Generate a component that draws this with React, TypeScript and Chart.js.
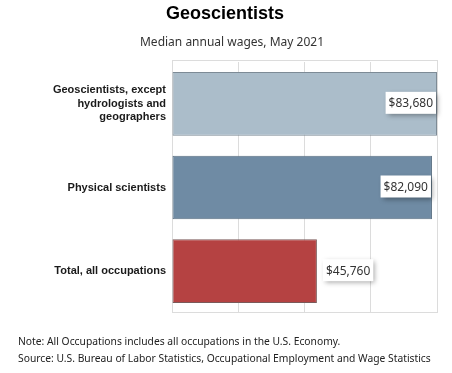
import React, { useEffect, useRef } from "react";
import { Chart, registerables } from "chart.js";
Chart.register(...registerables);

const categories = [
  ["Geoscientists, except", "hydrologists and", "geographers"],
  ["Physical scientists"],
  ["Total, all occupations"],
];
const wages = [83680, 82090, 45760];
const barColors = ["#abbdca", "#6f8ba4", "#b54242"];
const barBorders = ["#7d8b96", "#5a6f82", "#7a5a5a"];
const axisMax = 83680;
const titleText = "Geoscientists";
const subtitleText = "Median annual wages, May 2021";
const notes = [
  "Note: All Occupations includes all occupations in the U.S. Economy.",
  "Source: U.S. Bureau of Labor Statistics, Occupational Employment and Wage Statistics",
];

const fmt = (v: number) => "$" + v.toLocaleString("en-US");

const overlay = {
  id: "overlay",
  beforeDatasetsDraw(chart: any) {
    const { ctx, chartArea: a } = chart;
    ctx.save();
    ctx.strokeStyle = "#dcdcdc";
    ctx.lineWidth = 1;
    ctx.strokeRect(Math.round(a.left) + 0.5, Math.round(a.top) - 1.5, Math.round(a.right - a.left), Math.round(a.bottom - a.top) + 1);
    ctx.restore();
  },
  afterDatasetsDraw(chart: any) {
    const { ctx, chartArea: a } = chart;
    const meta = chart.getDatasetMeta(0);
    ctx.save();
    ctx.font = "12px 'Noto Sans'";
    meta.data.forEach((bar: any, i: number) => {
      const text = fmt(wages[i]);
      const tw = ctx.measureText(text).width;
      const bw = tw + 6;
      const bh = 22;
      let x0: number;
      if (bar.x + 6 + bw > a.right) {
        x0 = bar.x - bw - 1;
      } else {
        x0 = bar.x + 6;
      }
      const y0 = bar.y - 1 - bh / 2;
      ctx.save();
      ctx.shadowColor = "rgba(0,0,0,0.35)";
      ctx.shadowBlur = 5;
      ctx.shadowOffsetX = 2;
      ctx.shadowOffsetY = 2;
      ctx.fillStyle = "#ffffff";
      ctx.fillRect(x0, y0, bw, bh);
      ctx.restore();
      ctx.fillStyle = "#333333";
      ctx.textAlign = "left";
      ctx.textBaseline = "middle";
      ctx.fillText(text, x0 + 3, bar.y);
    });
    ctx.restore();
  },
  afterDraw(chart: any) {
    const { ctx } = chart;
    ctx.save();
    ctx.fillStyle = "#000000";
    ctx.textAlign = "center";
    ctx.textBaseline = "middle";
    ctx.font = "bold 18px 'Liberation Sans'";
    ctx.fillText(titleText, 225, 14);
    ctx.fillStyle = "#333333";
    ctx.font = "12px 'Noto Sans'";
    ctx.fillText(subtitleText, 232, 43);
    ctx.textAlign = "left";
    ctx.font = "10.3px 'Noto Sans'";
    ctx.fillStyle = "#222222";
    ctx.fillText(notes[0], 18, 342);
    ctx.fillText(notes[1], 18, 359);
    ctx.restore();
  },
};

export default function App() {
  const ref = useRef<HTMLCanvasElement>(null);
  useEffect(() => {
    document.body.style.margin = "0";
    const chart = new Chart(ref.current!, {
      type: "bar",
      data: {
        labels: categories as any,
        datasets: [
          {
            data: wages,
            backgroundColor: barColors,
            borderColor: barBorders,
            borderWidth: 1,
            borderSkipped: false,
            barPercentage: 0.76,
            categoryPercentage: 1,
          },
        ],
      },
      options: {
        indexAxis: "y",
        responsive: false,
        animation: false,
        layout: { padding: { top: 62, bottom: 60, right: 15, left: 0 } },
        plugins: { legend: { display: false }, tooltip: { enabled: false } },
        scales: {
          x: {
            position: "top",
            min: 0,
            max: axisMax,
            ticks: { display: false, stepSize: axisMax / 4 },
            grid: { color: "#dcdcdc", drawTicks: false },
            border: { display: false },
            afterFit: (s: any) => {
              s.height = 0;
            },
          },
          y: {
            ticks: {
              color: "#1a1a1a",
              font: { family: "'Liberation Sans'", size: 11, weight: "bold", lineHeight: 1.22 },
              padding: 6,
            },
            grid: { display: false, drawTicks: false },
            border: { display: false },
            afterFit: (s: any) => {
              s.width = 172;
            },
          },
        },
      },
      plugins: [overlay],
    });
    return () => chart.destroy();
  }, []);
  return <canvas ref={ref} width={452} height={373} />;
}
